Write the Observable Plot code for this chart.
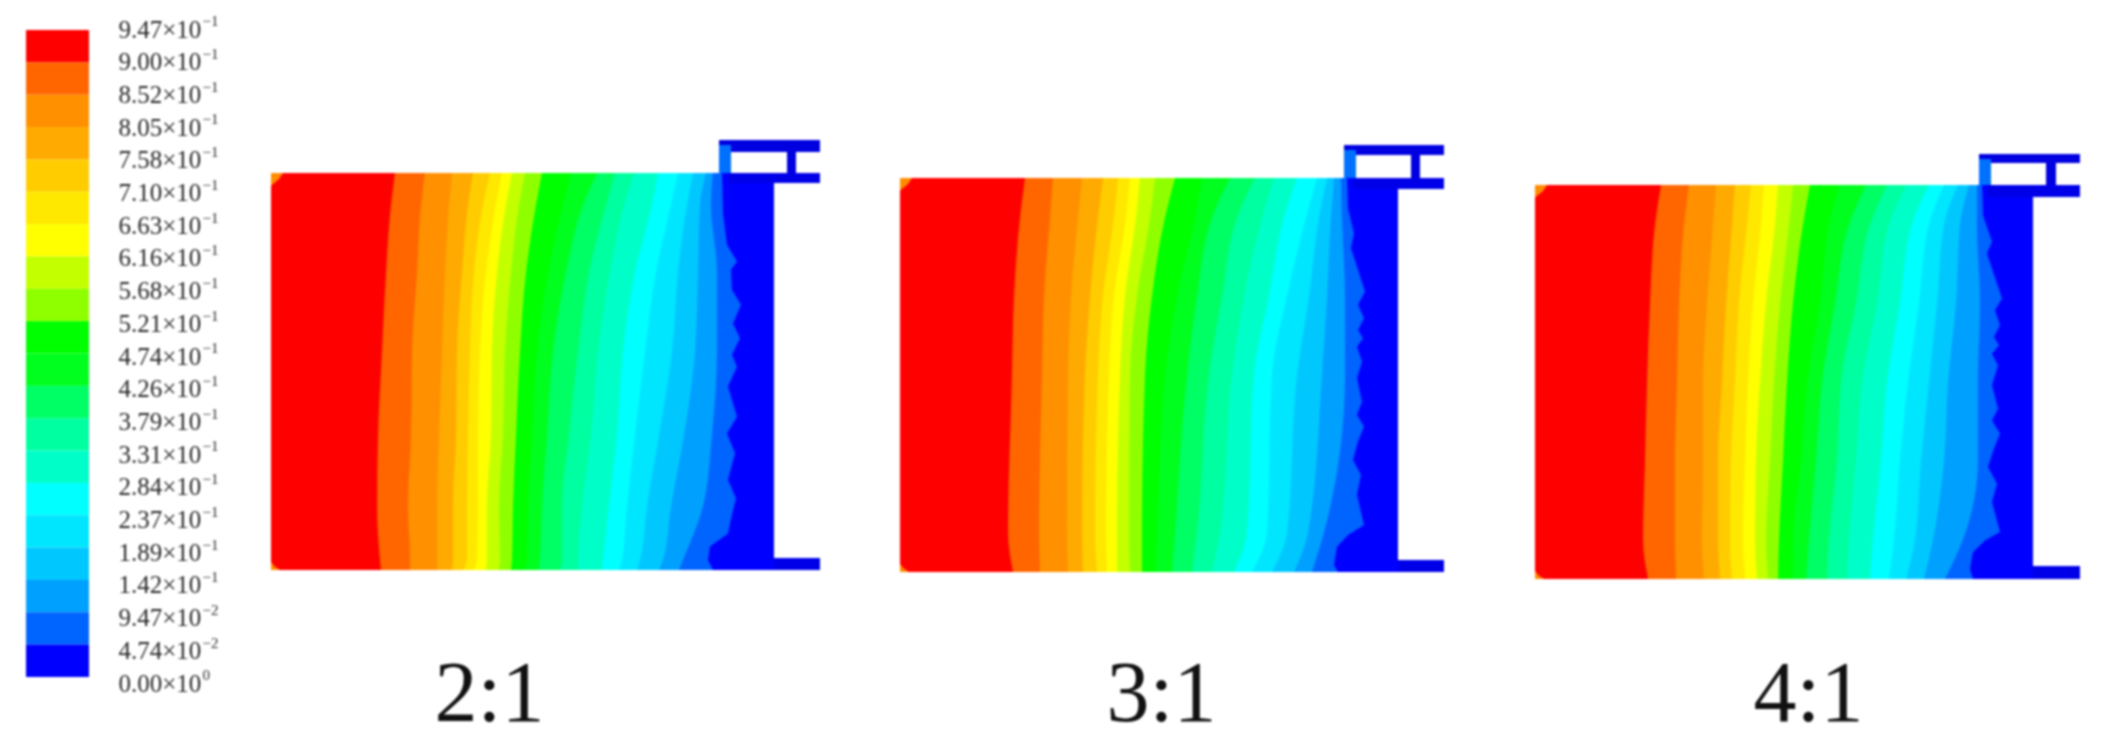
<!DOCTYPE html>
<html>
<head>
<meta charset="utf-8">
<script src="https://cdn.jsdelivr.net/npm/d3@7"></script>
<script src="https://cdn.jsdelivr.net/npm/@observablehq/plot@0.6"></script>
<style>
html,body{margin:0;padding:0;background:#fff;}
svg{display:block;filter:blur(1px);}
</style>
</head>
<body>
<div id="chart"></div>
<script>
const bandColors = ["#ff0000","#ff6600","#ff9000","#ffaa00","#ffcc00","#ffe800","#ffff00","#c4ff00","#8fff00","#00ff00","#00ff1e","#00ff64","#00ffa0","#00ffc8","#00ffff","#00e6ff","#00c8ff","#00a0ff","#0064ff","#0000ff"];
const legendMantissa = ["9.47","9.00","8.52","8.05","7.58","7.10","6.63","6.16","5.68","5.21","4.74","4.26","3.79","3.31","2.84","2.37","1.89","1.42","9.47","4.74","0.00"];
const legendExponent = ["−1","−1","−1","−1","−1","−1","−1","−1","−1","−1","−1","−1","−1","−1","−1","−1","−1","−1","−2","−2","0"];
const panelNames = ["2:1","3:1","4:1"];
const panelNameX = [489,1161,1808];

const panelLeft = [271,900,1535];
const panelTop = [173,178,185];
const panelBottom = [570,572,579];
const wallX = [774,1398,2033];
const flangeLeft = [719,1344,1979];
const connectorRight = [731,1356,1991];
const webLeft = [787,1411,2046];
const webRight = [796,1420,2056];
const flangeRight = [820,1444,2080];
const upperFlangeTop = [140,145,154];
const upperFlangeBottom = [152,155,163];
const lowerFlangeTop = [173,178,185];
const lowerFlangeBottom = [183,189,197];
const baseFlangeTop = [558,560,566];

const levels1 = [0,0.08,0.25,0.45,0.66,0.84,0.975,1];
const offsets1 = [
  [124,154,181,202,219,231,241,254,271,300,326,344,363,387,407,422,435,442],
  [120,150,178,197,212,225,235,248,265,292,312,335,353,381,400,416,429,440],
  [115,146,174,191,203,215,226,240,255,277,295,318,339,364,385,407,427,446],
  [111,141,171,186,199,209,221,234,249,266,282,307,327,352,374,401,424,446],
  [107,140,168,185,197,207,220,232,245,261,276,298,320,346,364,388,413,441],
  [106,137,166,182,196,207,216,228,242,257,271,291,311,338,356,376,400,432],
  [109,139,166,182,196,206,216,229,241,256,269,291,307,332,351,369,392,412],
  [110,139,166,181,192,202,215,228,240,253,268,289,307,331,348,366,388,408]
];
const levels2 = [0,0.1,0.3,0.5,0.9,1];
const offsets2 = [
  [125,153,182,203,218,230,240,255,275,302,330,355,374,397,417,427,434,441],
  [120,150,178,198,214,226,236,250,265,295,312,337,362,384,406,419,431,442],
  [114,144,171,190,203,214,225,237,252,277,297,322,344,369,387,409,427,445],
  [112,142,168,185,198,209,220,230,245,265,287,309,332,354,372,397,422,445],
  [108,139,167,182,195,206,217,229,242,257,275,297,320,347,367,387,408,424],
  [113,140,168,183,197,207,217,230,242,255,272,292,312,334,352,372,394,412]
];
const levels3 = [0,0.1,0.3,0.5,0.7,0.9,1];
const offsets3 = [
  [126,154,181,200,216,229,243,258,275,304,331,352,371,394,409,423,434,442],
  [120,149,178,197,212,226,240,254,268,294,314,335,354,377,394,409,425,442],
  [115,144,172,191,204,218,231,245,258,285,300,321,342,365,384,402,421,445],
  [112,142,168,187,200,213,225,239,252,272,287,306,327,352,373,394,413,443],
  [110,140,168,183,196,210,221,235,248,266,281,302,321,346,365,386,409,443],
  [108,140,167,183,195,208,220,231,244,258,274,294,314,338,359,380,398,428],
  [113,141,169,185,197,210,222,233,243,258,271,292,312,335,354,371,389,410]
];

const edgeLevels1 = [0,0.102,0.181,0.223,0.244,0.295,0.332,0.379,0.416,0.458,0.488,0.538,0.614,0.656,0.706,0.773,0.819,0.882,0.908,0.941,0.975,1];
const edgeOffsets1 = [451,452,456,466,460,461,470,462,469,461,466,457,466,456,464,457,465,459,457,439,437,442];
const edgeLevels2 = [0,0.077,0.14,0.178,0.288,0.322,0.356,0.386,0.407,0.428,0.466,0.508,0.568,0.601,0.631,0.669,0.716,0.754,0.804,0.881,0.906,0.936,0.982,1];
const edgeOffsets2 = [447,448,454,451,465,458,464,458,463,457,462,457,462,457,464,458,453,461,457,464,448,437,434,438];
const edgeLevels3 = [0,0.077,0.144,0.174,0.288,0.318,0.356,0.386,0.407,0.428,0.458,0.508,0.568,0.598,0.631,0.669,0.716,0.758,0.804,0.881,0.902,0.932,0.974,1];
const edgeOffsets3 = [447,448,457,452,467,460,465,459,464,457,463,457,463,457,465,459,453,462,457,465,450,438,435,438];

const cornerTopLevels = [0,0.015,0.032];
const cornerTopOffsets = [12,8,0];
const cornerBottomLevels = [0.98,0.992,1];
const cornerBottomOffsets = [0,4,9];

const allLevels = [levels1,levels2,levels3];
const allOffsets = [offsets1,offsets2,offsets3];
const allEdgeLevels = [edgeLevels1,edgeLevels2,edgeLevels3];
const allEdgeOffsets = [edgeOffsets1,edgeOffsets2,edgeOffsets3];

const yAt = (p, f) => panelTop[p] + f * (panelBottom[p] - panelTop[p]);

const smoothBands = [];
const jaggedEdges = [];
const corners = [];
panelNames.forEach((name, p) => {
  allEdgeLevels[p].forEach((f, j) => {
    jaggedEdges.push({key: name, x1: panelLeft[p], x2: panelLeft[p] + allEdgeOffsets[p][j], y: yAt(p, f), color: bandColors[18]});
  });
  for (let k = 17; k >= 0; k--) {
    allLevels[p].forEach((f, j) => {
      smoothBands.push({key: name + "-" + k, x1: panelLeft[p], x2: panelLeft[p] + allOffsets[p][j][k], y: yAt(p, f), color: bandColors[k]});
    });
  }
  cornerTopLevels.forEach((f, j) => corners.push({key: name + "-t", x1: panelLeft[p], x2: panelLeft[p] + cornerTopOffsets[j], y: yAt(p, f)}));
  cornerBottomLevels.forEach((f, j) => corners.push({key: name + "-b", x1: panelLeft[p], x2: panelLeft[p] + cornerBottomOffsets[j], y: yAt(p, f)}));
});

const solidParts = panelNames.flatMap((name, p) => [
  {x1: panelLeft[p], x2: wallX[p], y1: panelTop[p], y2: panelBottom[p], color: "#0000ff"},
  {x1: flangeLeft[p], x2: flangeRight[p], y1: upperFlangeTop[p], y2: upperFlangeBottom[p], color: "#0000e0"},
  {x1: connectorRight[p] - 3, x2: flangeRight[p], y1: lowerFlangeTop[p], y2: lowerFlangeBottom[p], color: "#0000e8"},
  {x1: webLeft[p], x2: webRight[p], y1: upperFlangeBottom[p], y2: lowerFlangeTop[p], color: "#0000e0"},
  {x1: wallX[p], x2: flangeRight[p], y1: baseFlangeTop[p], y2: panelBottom[p], color: "#0000e8"},
  {x1: flangeLeft[p], x2: connectorRight[p], y1: upperFlangeTop[p] + 5, y2: panelTop[p], color: "#0070ff"}
]);

const legendTop = 30, legendStep = 32.35, labelTop = 29, labelStep = 32.7;
const legendBands = bandColors.map((color, i) => ({x1: 26, x2: 89, y1: legendTop + i * legendStep, y2: legendTop + (i + 1) * legendStep, color}));
const legendLabels = legendMantissa.map((m, i) => ({x: 118, y: labelTop + i * labelStep, mantissa: m + "×10", exponent: legendExponent[i]}));
const nameLabels = panelNames.map((name, p) => ({name, x: panelNameX[p], y: 693}));

const serif = "'Liberation Serif','Times New Roman',serif";

const chart = Plot.plot({
  width: 2101,
  height: 739,
  margin: 0,
  x: {domain: [0, 2101], axis: null},
  y: {domain: [739, 0], axis: null},
  color: {type: "identity"},
  style: {background: "#fff"},
  marks: [
    Plot.rect(legendBands, {x1: "x1", x2: "x2", y1: "y1", y2: "y2", fill: "color"}),
    Plot.text(legendLabels, {x: "x", y: "y", text: "mantissa", textAnchor: "start", fontFamily: serif, fontSize: 25, fill: "#2a2a2a"}),
    Plot.text(legendLabels, {x: "x", y: "y", text: "exponent", textAnchor: "start", dx: 84, dy: -8, fontFamily: serif, fontSize: 15, fill: "#2a2a2a"}),
    Plot.rect(solidParts, {x1: "x1", x2: "x2", y1: "y1", y2: "y2", fill: "color"}),
    Plot.areaX(jaggedEdges, {x1: "x1", x2: "x2", y: "y", z: "key", fill: "color"}),
    Plot.areaX(smoothBands, {x1: "x1", x2: "x2", y: "y", z: "key", fill: "color", curve: "monotone-y"}),
    Plot.areaX(corners, {x1: "x1", x2: "x2", y: "y", z: "key", fill: "#ff8c00"}),
    Plot.text(nameLabels, {x: "x", y: "y", text: "name", fontFamily: serif, fontSize: 86, fill: "#111"})
  ]
});
document.getElementById("chart").appendChild(chart);
</script>
</body>
</html>
